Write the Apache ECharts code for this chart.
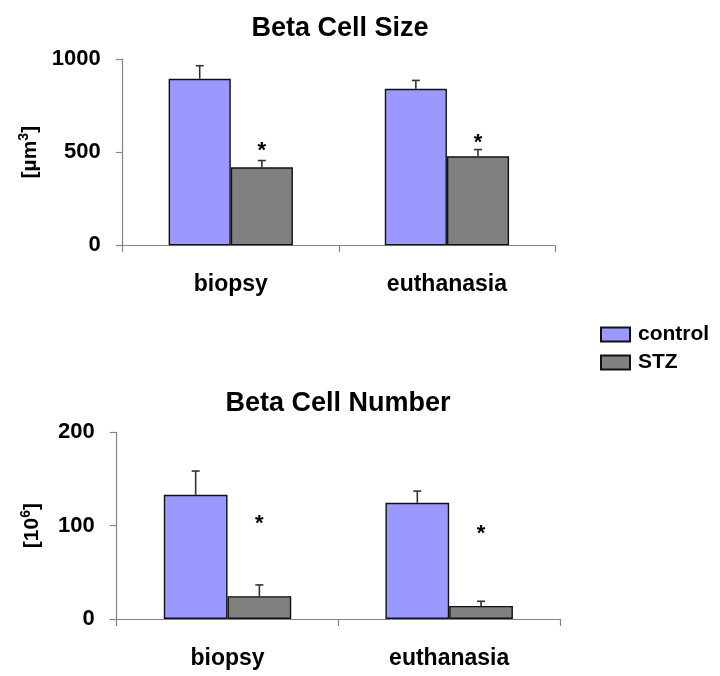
<!DOCTYPE html>
<html>
<head>
<meta charset="utf-8">
<script src="https://cdn.jsdelivr.net/npm/echarts@6/dist/echarts.min.js"></script>
<style>
  html, body { margin: 0; padding: 0; background: #fff; }
  #chart { width: 720px; height: 676px; }
</style>
</head>
<body>
<div id="chart"></div>
<script>
// Beta cell measurements, control vs STZ-treated, at biopsy and euthanasia
const categories = ['biopsy', 'euthanasia'];

// Beta cell size [µm³]
const sizeControl = [894, 840];
const sizeControlErr = [70, 45];
const sizeSTZ = [419, 478];
const sizeSTZErr = [36, 36];
const sizeStarAt = [534, 578];   // height of the significance asterisk

// Beta cell number [10⁶]
const numberControl = [133, 124.5];
const numberControlErr = [25.5, 12.5];
const numberSTZ = [24.5, 14];
const numberSTZErr = [12, 5];
const numberStarAt = [107, 97];

const sizeTicks = { min: 0, max: 1000, interval: 500 };
const numberTicks = { min: 0, max: 200, interval: 100 };

const FONT = "'Liberation Sans', Arial, Helvetica, sans-serif";
const AXIS_GREY = '#858585';
const CONTROL_COLOR = '#9999ff';
const STZ_COLOR = '#808080';
const CAT_GAP = 0.425;                 // share of each band left empty
const BAR_SHARE = (1 - CAT_GAP) / 2;   // width of one bar relative to the band

function barSeries(name, color, values, gridIdx) {
  return {
    type: 'bar', name: name,
    xAxisIndex: gridIdx, yAxisIndex: gridIdx,
    data: values,
    barGap: 0, barCategoryGap: (CAT_GAP * 100) + '%',
    itemStyle: { color: color, borderColor: '#111', borderWidth: 1.4 },
    z: 2
  };
}

// Upper error whiskers, plus an optional asterisk above the bar
function whiskerSeries(side, values, errs, stars, gridIdx) {
  return {
    type: 'custom',
    xAxisIndex: gridIdx, yAxisIndex: gridIdx,
    data: values.map((v, i) => [i, v, errs[i], stars ? stars[i] : null]),
    encode: { x: 0, y: 1 },
    z: 5,
    silent: true,
    renderItem: function (params, api) {
      const cat = api.value(0), v = api.value(1), e = api.value(2), s = api.value(3);
      const base = api.coord([cat, v]);
      const top = api.coord([cat, v + e]);
      const band = api.size([1, 0])[0];
      const w = band * BAR_SHARE;
      const x = base[0] + side * w / 2;
      const lineStyle = { stroke: '#333', lineWidth: 1.6 };
      const children = [
        { type: 'line', shape: { x1: x, y1: base[1], x2: x, y2: top[1] }, style: lineStyle },
        { type: 'line', shape: { x1: x - 4, y1: top[1], x2: x + 4, y2: top[1] }, style: lineStyle }
      ];
      if (!isNaN(s) && s !== null) {
        const p = api.coord([cat, s]);
        children.push({
          type: 'text',
          style: {
            text: '*', x: x, y: p[1] + 5,
            font: 'bold 22px ' + FONT,
            fill: '#000', align: 'center', verticalAlign: 'middle'
          }
        });
      }
      return { type: 'group', children: children };
    }
  };
}

function xAxis(gridIdx) {
  return {
    type: 'category', gridIndex: gridIdx, data: categories,
    axisLine: { lineStyle: { color: AXIS_GREY, width: 1.2 } },
    axisTick: { show: true, length: 7, lineStyle: { color: AXIS_GREY, width: 1.2 } },
    axisLabel: { margin: 28, color: '#000', fontFamily: FONT, fontWeight: 'bold', fontSize: 23 },
    splitLine: { show: false }
  };
}

function yAxis(gridIdx, ticks, nameRich, nameGap) {
  return {
    type: 'value', gridIndex: gridIdx,
    min: ticks.min, max: ticks.max, interval: ticks.interval,
    name: nameRich, nameLocation: 'middle', nameRotate: 90, nameGap: nameGap,
    nameTextStyle: {
      color: '#000', fontFamily: FONT, fontWeight: 'bold', fontSize: 21,
      rich: {
        b: { color: '#000', fontFamily: FONT, fontWeight: 'bold', fontSize: 21, lineHeight: 24, verticalAlign: 'bottom' },
        sup: { color: '#000', fontFamily: FONT, fontWeight: 'bold', fontSize: 14, lineHeight: 24, verticalAlign: 'top' }
      }
    },
    axisLine: { show: true, lineStyle: { color: AXIS_GREY, width: 1.2 } },
    axisTick: { show: true, length: 7, lineStyle: { color: AXIS_GREY, width: 1.2 } },
    axisLabel: {
      margin: 22, color: '#000', fontFamily: FONT, fontWeight: 'bold', fontSize: 22,
      formatter: v => String(v)
    },
    splitLine: { show: false }
  };
}

const chart = echarts.init(document.getElementById('chart'), null, { renderer: 'canvas' });

chart.setOption({
  backgroundColor: '#fff',
  animation: false,
  title: [
    { text: 'Beta Cell Size', left: 335, top: 10, textAlign: 'center',
      textStyle: { fontFamily: FONT, fontWeight: 'bold', fontSize: 27, color: '#000' } },
    { text: 'Beta Cell Number', left: 333, top: 385, textAlign: 'center',
      textStyle: { fontFamily: FONT, fontWeight: 'bold', fontSize: 27, color: '#000' } }
  ],
  legend: {
    data: ['control', 'STZ'],
    orient: 'vertical',
    left: 595, top: 319,
    icon: 'rect',
    itemWidth: 29, itemHeight: 14, itemGap: 7,
    textStyle: { fontFamily: FONT, fontWeight: 'bold', fontSize: 21, color: '#000', padding: [0, 0, 0, 3] }
  },
  grid: [
    { left: 122.7, right: 165, top: 59, bottom: 430.7 },
    { left: 116.7, right: 160, top: 432.3, bottom: 57 }
  ],
  xAxis: [xAxis(0), xAxis(1)],
  yAxis: [
    yAxis(0, sizeTicks, '{b|[µm}{sup|3}{b|]}', 76),
    yAxis(1, numberTicks, '{b|[10}{sup|6}{b|]}', 74)
  ],
  series: [
    barSeries('control', CONTROL_COLOR, sizeControl, 0),
    barSeries('STZ', STZ_COLOR, sizeSTZ, 0),
    whiskerSeries(-1, sizeControl, sizeControlErr, null, 0),
    whiskerSeries(1, sizeSTZ, sizeSTZErr, sizeStarAt, 0),
    barSeries('control', CONTROL_COLOR, numberControl, 1),
    barSeries('STZ', STZ_COLOR, numberSTZ, 1),
    whiskerSeries(-1, numberControl, numberControlErr, null, 1),
    whiskerSeries(1, numberSTZ, numberSTZErr, numberStarAt, 1)
  ]
});
</script>
</body>
</html>
